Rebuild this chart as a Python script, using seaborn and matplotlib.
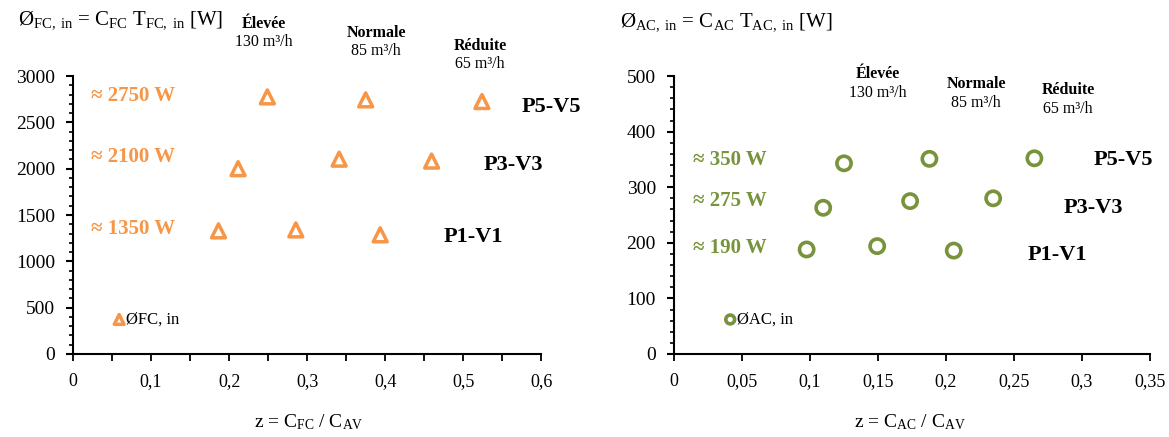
import matplotlib
matplotlib.use("Agg")
import matplotlib.pyplot as plt
import numpy as np
import pandas as pd
import seaborn as sns
from matplotlib.ticker import MultipleLocator, FuncFormatter

# Flux de chaleur côté fluide chaud (FC)
fc_z = [0.249, 0.375, 0.524, 0.2115, 0.341, 0.4595, 0.1864, 0.2855, 0.3936]
fc_phi = [2775, 2743, 2725, 2000, 2103, 2082, 1329, 1339, 1286]
# Flux de chaleur côté air chaud (AC)
ac_z = [0.125, 0.1878, 0.265, 0.1097, 0.1736, 0.2347, 0.0975, 0.1494, 0.2057]
ac_phi = [343, 351, 352, 263, 275, 280, 188, 194, 186]

levels = ["P5-V5", "P3-V3", "P1-V1"]
fc_approx = ["≈ 2750 W", "≈ 2100 W", "≈ 1350 W"]
ac_approx = ["≈ 350 W", "≈ 275 W", "≈ 190 W"]
debits = ["Élevée", "Normale", "Réduite"]
debit_vals = ["130 m³/h", "85 m³/h", "65 m³/h"]

ORANGE = "#F79646"
GREEN = "#77933C"

sns.set_style("white")
plt.rcParams["font.family"] = ["Liberation Serif", "DejaVu Serif"]
plt.rcParams["mathtext.fontset"] = "custom"
plt.rcParams["mathtext.rm"] = "Liberation Serif"
plt.rcParams["mathtext.it"] = "Liberation Serif:italic"
plt.rcParams["mathtext.bf"] = "Liberation Serif:bold"
plt.rcParams["text.color"] = "black"
plt.rcParams["xtick.color"] = "black"
plt.rcParams["ytick.color"] = "black"
plt.rcParams["xtick.labelcolor"] = "black"
plt.rcParams["ytick.labelcolor"] = "black"

fig = plt.figure(figsize=(11.69, 4.37), dpi=100)
ax1 = fig.add_axes([0.0625, 0.190, 0.4005, 0.636])
ax2 = fig.add_axes([0.5766, 0.190, 0.4071, 0.636])

df_fc = pd.DataFrame({"z": fc_z, "phi": fc_phi})
df_ac = pd.DataFrame({"z": ac_z, "phi": ac_phi})

sns.scatterplot(data=df_fc, x="z", y="phi", ax=ax1, marker="^", s=100,
                facecolor="none", edgecolor=ORANGE, linewidth=2.5,
                label="ØFC, in")
sns.scatterplot(data=df_ac, x="z", y="phi", ax=ax2, marker="o", s=105,
                facecolor="none", edgecolor=GREEN, linewidth=2.6,
                label="ØAC, in")

comma = FuncFormatter(lambda v, p: f"{v:g}".replace(".", ","))

for ax, xmax, xstep, xminor, ymax, ystep, yminor in [
    (ax1, 0.6, 0.1, 0.05, 3000, 500, 100),
    (ax2, 0.35, 0.05, 0.05, 500, 100, 20),
]:
    ax.set_xlim(0, xmax)
    ax.set_ylim(0, ymax)
    ax.xaxis.set_major_locator(MultipleLocator(xstep))
    ax.xaxis.set_minor_locator(MultipleLocator(xminor))
    ax.yaxis.set_major_locator(MultipleLocator(ystep))
    ax.yaxis.set_minor_locator(MultipleLocator(yminor))
    ax.xaxis.set_major_formatter(comma)
    for s in ["top", "right"]:
        ax.spines[s].set_visible(False)
    for s in ["left", "bottom"]:
        ax.spines[s].set_color("black")
        ax.spines[s].set_linewidth(1.5)
    ax.tick_params(axis="y", which="major", direction="out", length=5, width=1.5,
                   labelsize=14, pad=8, left=True)
    ax.tick_params(axis="y", which="minor", direction="out", length=3, width=1.2, left=True)
    ax.tick_params(axis="x", which="major", direction="out", length=5, width=1.3,
                   labelsize=13, pad=9, bottom=True)
    ax.tick_params(axis="x", which="minor", direction="out", length=5, width=1.3, bottom=True)
    ax.set_xlabel("")
    ax.set_ylabel("")

ax1.legend(loc="lower left", bbox_to_anchor=(0.07, 0.07), frameon=False, fontsize=12,
           handletextpad=0.0, borderaxespad=0, handlelength=0.8, markerscale=0.7)
ax2.legend(loc="lower left", bbox_to_anchor=(0.09, 0.07), frameon=False, fontsize=12,
           handletextpad=0.0, borderaxespad=0, handlelength=0.8, markerscale=0.62)

# Titres d'axes
fig.text(0.015, 0.955, r"Ø$_{\mathrm{FC,\ in}}$ = C$_{\mathrm{FC}}$ T$_{\mathrm{FC,\ in}}$ [W]",
         fontsize=15, va="center", ha="left")
fig.text(0.53, 0.950, r"Ø$_{\mathrm{AC,\ in}}$ = C$_{\mathrm{AC}}$ T$_{\mathrm{AC,\ in}}$ [W]",
         fontsize=15, va="center", ha="left")
fig.text(0.264, 0.035, r"z = C$_{\mathrm{FC}}$ / C$_{\mathrm{AV}}$", fontsize=14, ha="center", va="center")
fig.text(0.778, 0.035, r"z = C$_{\mathrm{AC}}$ / C$_{\mathrm{AV}}$", fontsize=14, ha="center", va="center")

# Annotations gauche
fc_txt_y = [96, 157, 229]
for lab, py in zip(fc_approx, fc_txt_y):
    fig.text(133 / 1169, 1 - py / 437, lab, color=ORANGE, fontsize=15, fontweight="bold",
             ha="center", va="center")
for lab, (px, py) in zip(levels, [(551, 107), (513, 165), (473, 237)]):
    fig.text(px / 1169, 1 - py / 437, lab, fontsize=16, fontweight="bold", ha="center", va="center")
for d, v, (px, py) in zip(debits, debit_vals, [(264, 24), (376, 33), (480, 46)]):
    fig.text(px / 1169, 1 - py / 437, d, fontsize=11.5, fontweight="bold", ha="center", va="center")
    fig.text(px / 1169, 1 - (py + 18) / 437, v, fontsize=11.5, ha="center", va="center")

# Annotations droite
for lab, py in zip(ac_approx, [160, 201, 248]):
    fig.text(730 / 1169, 1 - py / 437, lab, color=GREEN, fontsize=15, fontweight="bold",
             ha="center", va="center")
for lab, (px, py) in zip(levels, [(1123, 160), (1093, 208), (1057, 255)]):
    fig.text(px / 1169, 1 - py / 437, lab, fontsize=16, fontweight="bold", ha="center", va="center")
for d, v, (px, py) in zip(debits, debit_vals, [(878, 74), (976, 84), (1068, 90)]):
    fig.text(px / 1169, 1 - py / 437, d, fontsize=11.5, fontweight="bold", ha="center", va="center")
    fig.text(px / 1169, 1 - (py + 19) / 437, v, fontsize=11.5, ha="center", va="center")

fig.savefig("out.png", dpi=100)
plt.close(fig)
